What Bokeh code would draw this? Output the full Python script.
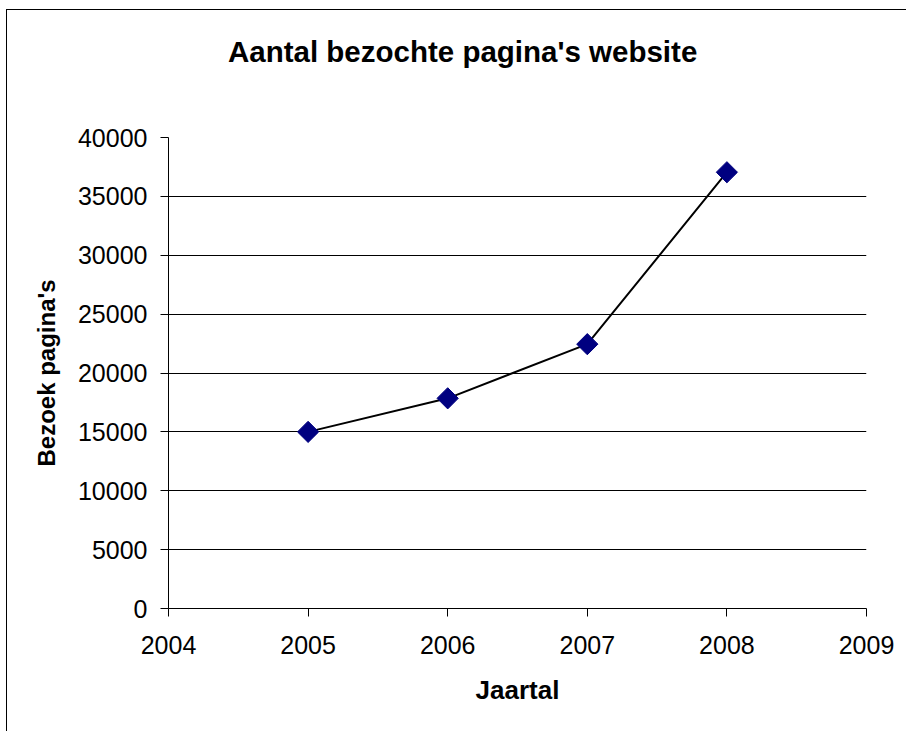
import numpy as np
from bokeh.plotting import figure
from bokeh.models import FixedTicker, Range1d, Div
from bokeh.layouts import column
from bokeh.embed import file_html
from bokeh.resources import INLINE

title_text = "Aantal bezochte pagina's website"
x_label = "Jaartal"
y_label = "Bezoek pagina's"
years = [2005, 2006, 2007, 2008]
visits = [15000, 17850, 22450, 37050]
x_ticks = [2004, 2005, 2006, 2007, 2008, 2009]
y_ticks = [0, 5000, 10000, 15000, 20000, 25000, 30000, 35000, 40000]
grid_ticks = [5000, 10000, 15000, 20000, 25000, 30000, 35000]

FONT = "Liberation Sans"
W, H = 906, 731
D = 80  # height of the title strip

title_div = Div(
    text=(f'<div style="padding-left:228px; padding-top:35px; white-space:nowrap; '
          f'font-family:\'{FONT}\'; font-size:29.5px; font-weight:bold; '
          f'line-height:normal; color:black;">{title_text}</div>'),
    width=W, height=D, margin=0)

p = figure(width=W, height=H - D, output_backend="svg", toolbar_location=None,
           x_range=Range1d(2004, 2009), y_range=Range1d(0, 40000),
           min_border_left=168, min_border_right=40,
           min_border_top=137 - D, min_border_bottom=123, margin=0)
p.outline_line_color = None
p.background_fill_color = "white"
p.border_fill_color = None

p.xaxis.ticker = FixedTicker(ticks=x_ticks)
p.yaxis.ticker = FixedTicker(ticks=y_ticks)
p.xgrid.visible = False
p.ygrid.ticker = FixedTicker(ticks=grid_ticks)
p.ygrid.grid_line_color = "black"
p.ygrid.grid_line_width = 1

for ax in (p.xaxis, p.yaxis):
    ax.axis_line_color = "black"
    ax.major_tick_line_color = "black"
    ax.major_tick_in = 0
    ax.major_tick_out = 8
    ax.minor_tick_line_color = None
    ax.major_label_text_font = FONT
    ax.major_label_text_font_size = "25px"
    ax.major_label_text_color = "black"
    ax.axis_label_text_font = FONT
    ax.axis_label_text_font_style = "bold"
    ax.axis_label_text_color = "black"

p.xaxis.axis_label_text_font_size = "26px"
p.yaxis.axis_label_text_font_size = "24px"
p.xaxis.axis_label = x_label
p.yaxis.axis_label = y_label
p.xaxis.major_label_standoff = 19
p.yaxis.major_label_standoff = 13
p.xaxis.axis_label_standoff = 18
p.yaxis.axis_label_standoff = 15

p.line(years, visits, line_color="black", line_width=2)
p.scatter(years, visits, marker="square", size=15, angle=np.pi / 4,
          fill_color="#000080", line_color="#000080")

layout = column(title_div, p, spacing=0, margin=0)
layout.styles = {
    "background-color": "white",
    "background-image": "linear-gradient(black, black), linear-gradient(black, black)",
    "background-size": "1px 100%, 100% 1px",
    "background-position": "6px 9px, 6px 9px",
    "background-repeat": "no-repeat",
}

open("out.html", "w").write(file_html(layout, INLINE))
